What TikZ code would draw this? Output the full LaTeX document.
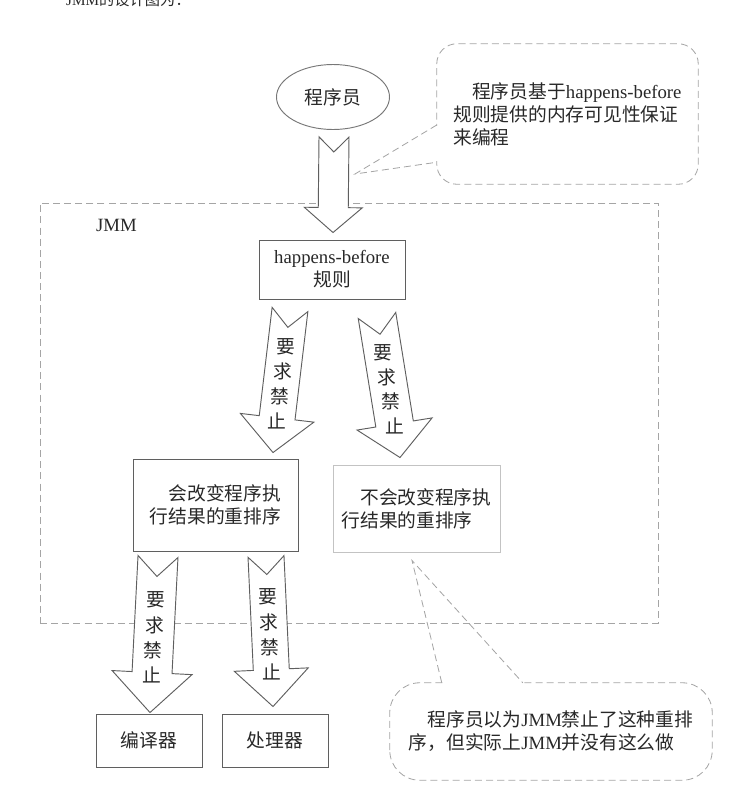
\documentclass[tikz,border=0pt]{standalone}
\usepackage{fontspec}
\setmainfont{Noto Sans CJK SC}
\newfontfamily\lat{Liberation Serif}
\usepackage{tikz}
\usetikzlibrary{shapes.geometric, calc, positioning}
\definecolor{ink}{RGB}{40,40,40}
\definecolor{boxgray}{RGB}{95,95,95}
\definecolor{palegray}{RGB}{195,195,195}
\definecolor{dashgray}{RGB}{165,165,165}
\tikzstyle{block} = [rectangle, draw=boxgray, line width=0.8pt, inner sep=0pt, align=center, text=ink]
\tikzstyle{bubble} = [rectangle, inner sep=0pt, align=left, text=ink]
\tikzstyle{dashline} = [draw=dashgray, line width=0.7pt, dash pattern=on 6pt off 3.5pt]
\tikzstyle{fatarrow} = [draw=boxgray, fill=white, line width=0.8pt, line join=miter]
% notched block arrow: tail, tip, shaft half width, head half width, head length (px)
\newcommand{\bigarrow}[5]{%
  \coordinate (ab) at ($(#2)!#5*0.03cm!(#1)$);
  \draw[fatarrow] ($(#1)!#3*0.03cm!90:(#2)$) -- ($(#1)!#3*0.03cm!(#2)$)
    -- ($(#1)!#3*0.03cm!270:(#2)$) -- ($(ab)!#3*0.03cm!270:(#2)$)
    -- ($(ab)!#4*0.03cm!270:(#2)$) -- (#2) -- ($(ab)!#4*0.03cm!90:(#2)$)
    -- ($(ab)!#3*0.03cm!90:(#2)$) -- cycle;
}
% stacked label along an arrow
\newcommand{\forbid}[2]{%
  \coordinate (am) at ($(#1)!0.52!(#2)$);
  \foreach \c [count=\i] in {要,求,禁,止}
    \node[text=ink] at ($(am)!{(\i-2.5)*0.75cm}!(#2)$) {\c};
}

\begin{document}
\begin{tikzpicture}[x=0.03cm, y=-0.03cm, font=\fontsize{16pt}{19.6pt}\selectfont]
    \useasboundingbox (0,0) rectangle (743,801);

    % Title line, cut by the page edge
    \node[anchor=base west, font=\fontsize{13pt}{16pt}\selectfont, text=ink] (title) at (62,5) {{\lat JMM}的设计图为：};

    % JMM frame
    \node[dashline, rectangle, minimum width=18.54cm, minimum height=12.6cm, inner sep=0pt] (jmm) at (349,413) {};
    \node[anchor=west, text=ink] (jmmlabel) at (92,225) {\lat JMM};

    % Programmer and rules
    \node[ellipse, draw=boxgray!85, line width=0.8pt, minimum width=3.39cm, minimum height=1.95cm, inner sep=0pt, text=ink] (prog) at (333,97) {程序员};
    \node[block, minimum width=4.38cm, minimum height=1.77cm] (hb) at (332,269.5) {{\lat happens-before}\\规则};

    % Reorderings
    \node[block, align=left, minimum width=4.95cm, minimum height=2.76cm] (change) at (215.5,505) {\hspace*{1em}会改变程序执\\行结果的重排序};
    \node[block, draw=palegray, align=left, minimum width=5.01cm, minimum height=2.61cm] (nochange) at (416.5,508.5) {\hspace*{1em}不会改变程序执\\行结果的重排序};

    % Compiler and processor
    \node[block, minimum width=3.18cm, minimum height=1.59cm] (compiler) at (149,740.5) {编译器};
    \node[block, minimum width=3.18cm, minimum height=1.59cm] (processor) at (275,740.5) {处理器};

    % Notes
    \node[bubble, minimum width=7.83cm, minimum height=4.2cm] (note1) at (567.5,114) {\hspace*{1em}程序员基于{\lat happens-before}\\规则提供的内存可见性保证\\来编程};
    \node[bubble, minimum width=9.66cm, minimum height=2.91cm] (note2) at (551,731.5) {\hspace*{1em}程序员以为{\lat JMM}禁止了这种重排\\序，但实际上{\lat JMM}并没有这么做};

    \coordinate (tip1) at (355,174);
    \coordinate (b1) at ($(note1.west)+(0,11)$);
    \coordinate (b2) at ($(note1.south west)+(0,-22)$);
    \draw[dashline, rounded corners=0.6cm] (note1.south west) rectangle (note1.north east);
    \fill[white] ($(b1)+(-2,1)$) rectangle ($(b2)+(2,-1)$);
    \draw[dashline] (b1) -- (tip1) -- (b2);

    \coordinate (tip2) at ($(nochange.south)+(-4.5,8)$);
    \coordinate (c1) at ($(note2.north west)+(52,0)$);
    \coordinate (c2) at ($(note2.north west)+(133,0)$);
    \draw[dashline, rounded corners=0.9cm] (note2.south west) rectangle (note2.north east);
    \fill[white] ($(c1)+(1,-2)$) rectangle ($(c2)+(-1,2)$);
    \draw[dashline] (c1) -- (tip2) -- (c2);

    % Fat arrows
    \coordinate (a1s) at ($(prog.south)+(1,7)$);
    \coordinate (a1e) at ($(hb.north)+(1,-7)$);
    \bigarrow{a1s}{a1e}{15}{29}{25}

    \coordinate (a2s) at ($(hb.south)+(-42,10)$);
    \coordinate (a2e) at ($(change.north)+(57.5,-6)$);
    \bigarrow{a2s}{a2e}{18}{37}{35}
    \forbid{a2s}{a2e}

    \coordinate (a3s) at ($(hb.south)+(45,16)$);
    \coordinate (a3e) at ($(nochange.north)+(-16.5,-7)$);
    \bigarrow{a3s}{a3e}{19}{38}{34}
    \forbid{a3s}{a3e}

    \coordinate (a4s) at ($(change.south)+(-57.5,5)$);
    \coordinate (a4e) at ($(compiler.north)+(1,-1)$);
    \bigarrow{a4s}{a4e}{20}{40}{40}
    \forbid{a4s}{a4e}

    \coordinate (a5s) at ($(change.south)+(50.5,5)$);
    \coordinate (a5e) at ($(processor.north)+(-2,-7)$);
    \bigarrow{a5s}{a5e}{18}{37}{37}
    \forbid{a5s}{a5e}
\end{tikzpicture}
\end{document}
